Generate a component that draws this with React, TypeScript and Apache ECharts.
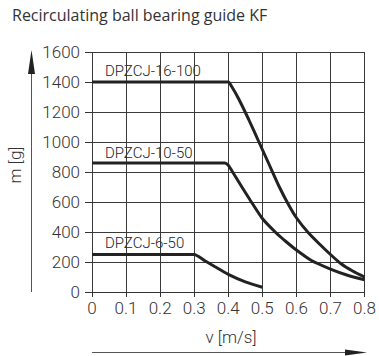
import React, { useEffect, useRef } from "react";
import * as echarts from "echarts";

const title = "Recirculating ball bearing guide KF";
const xTicks = [0, 0.1, 0.2, 0.3, 0.4, 0.5, 0.6, 0.7, 0.8];
const yTicks = [0, 200, 400, 600, 800, 1000, 1200, 1400, 1600];
const xName = "v [m/s]";
const yName = "m [g]";

const seriesNames = ["DPZCJ-16-100", "DPZCJ-10-50", "DPZCJ-6-50"];

const s16x100: [number, number][] = [
  [0, 1400], [0.4, 1400], [0.41, 1370], [0.43, 1290], [0.46, 1150], [0.49, 1000],
  [0.52, 850], [0.55, 700], [0.575, 590], [0.6, 495], [0.635, 395], [0.67, 315],
  [0.7, 250], [0.73, 190], [0.765, 140], [0.8, 100],
];
const s10x50: [number, number][] = [
  [0, 860], [0.39, 860], [0.4, 845], [0.41, 810], [0.44, 700], [0.465, 610],
  [0.5, 490], [0.54, 395], [0.57, 335], [0.6, 280], [0.644, 210], [0.7, 153],
  [0.75, 112], [0.8, 82],
];
const s6x50: [number, number][] = [
  [0, 250], [0.3, 250], [0.33, 210], [0.36, 170], [0.4, 118], [0.45, 68], [0.5, 32],
];

const FONT = "Roboto";
const INK = "#222";

export default function App() {
  const ref = useRef<HTMLDivElement>(null);
  useEffect(() => {
    if (!ref.current) return;
    const chart = echarts.init(ref.current, undefined, { renderer: "svg" });
    const lineStyle = { color: INK, width: 3 };
    chart.setOption({
      animation: false,
      textStyle: { fontFamily: FONT },
      grid: { left: 92, right: 12, top: 52, bottom: 64 },
      xAxis: {
        type: "value",
        min: xTicks[0],
        max: xTicks[xTicks.length - 1],
        interval: 0.1,
        axisLine: { show: true, lineStyle: { color: "#333", width: 1 } },
        axisTick: { show: true, length: 5, lineStyle: { color: "#333" } },
        axisLabel: {
          color: "#333",
          fontSize: 17,
          fontWeight: 300,
          margin: 7,
          formatter: (v: number) => String(Math.round(v * 10) / 10),
        },
        splitLine: { show: true, lineStyle: { color: "#3a3a3a", width: 1 } },
      },
      yAxis: {
        type: "value",
        min: yTicks[0],
        max: yTicks[yTicks.length - 1],
        interval: 200,
        axisLine: { show: false },
        axisTick: { show: true, length: 7, lineStyle: { color: "#333" } },
        axisLabel: {
          color: "#333", fontSize: 17, fontWeight: 300, margin: 12,
          formatter: (v: number) => String(Math.round(v)),
        },
        splitLine: { show: true, lineStyle: { color: "#3a3a3a", width: 1 } },
      },
      graphic: [
        {
          type: "text",
          left: 12,
          top: 7,
          style: { text: title, fontFamily: "Open Sans", fontSize: 16, fill: "#333" },
        },
        {
          type: "text",
          x: 15,
          y: 165,
          rotation: Math.PI / 2,
          style: {
            text: yName, fontFamily: FONT, fontSize: 17, fontWeight: 300, fill: "#333",
            align: "center", verticalAlign: "middle",
          },
        },
        {
          type: "text",
          x: 231,
          y: 337,
          style: {
            text: xName, fontFamily: FONT, fontSize: 17, fontWeight: 300, fill: "#333",
            align: "center", verticalAlign: "middle",
          },
        },
        { type: "line", shape: { x1: 31.5, y1: 70, x2: 31.5, y2: 292 }, style: { stroke: "#555", lineWidth: 1 } },
        { type: "polygon", shape: { points: [[31.5, 50], [28, 74], [35, 74]] }, style: { fill: "#222" } },
        { type: "line", shape: { x1: 92, y1: 352.5, x2: 350, y2: 352.5 }, style: { stroke: "#555", lineWidth: 1 } },
        { type: "polygon", shape: { points: [[367, 352.5], [345, 349.5], [345, 355.5]] }, style: { fill: "#222" } },
        {
          type: "text", x: 105, y: 71,
          style: { text: seriesNames[0], fontFamily: FONT, fontSize: 15, fontWeight: 300, fill: INK, verticalAlign: "middle" },
        },
        {
          type: "text", x: 105, y: 153,
          style: { text: seriesNames[1], fontFamily: FONT, fontSize: 15, fontWeight: 300, fill: INK, verticalAlign: "middle" },
        },
        {
          type: "text", x: 105, y: 243,
          style: { text: seriesNames[2], fontFamily: FONT, fontSize: 15, fontWeight: 300, fill: INK, verticalAlign: "middle" },
        },
      ],
      series: [
        { name: seriesNames[0], type: "line", data: s16x100, symbol: "none", smooth: 0.2, lineStyle },
        { name: seriesNames[1], type: "line", data: s10x50, symbol: "none", smooth: 0.2, lineStyle },
        { name: seriesNames[2], type: "line", data: s6x50, symbol: "none", smooth: 0.2, lineStyle },
      ],
    });
    return () => chart.dispose();
  }, []);
  return (
    <div
      ref={ref}
      style={{ position: "fixed", left: 0, top: 0, width: 379, height: 356, background: "#fff" }}
    />
  );
}
